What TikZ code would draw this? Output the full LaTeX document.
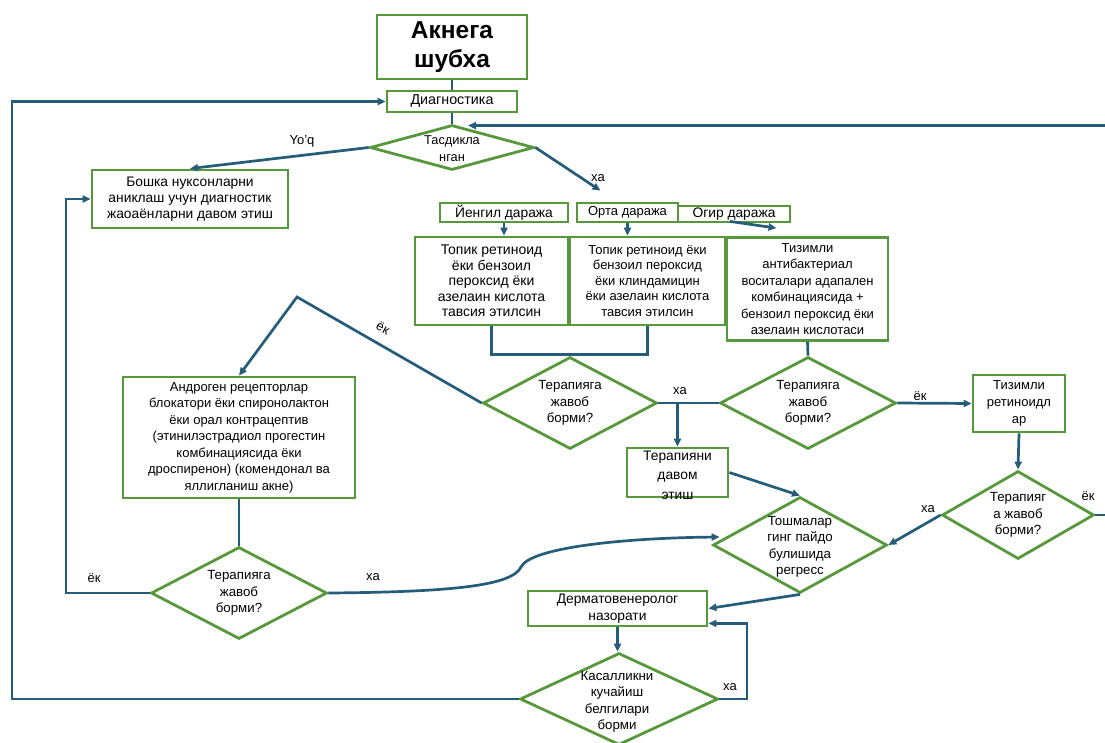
\documentclass[tikz,border=0pt]{standalone}
\usepackage{fontspec}
\setmainfont{Liberation Sans}
\usetikzlibrary{shapes.geometric,arrows.meta,calc}
\definecolor{bx}{RGB}{88,152,60}
\definecolor{ln}{RGB}{36,92,122}
\begin{document}
\begin{tikzpicture}[x=1pt,y=-1pt,
 box/.style={draw=bx,line width=2.8pt,rectangle,inner sep=0pt,align=center,font=\fontsize{13}{16.5}\selectfont},
 dia/.style={draw=bx,line width=2.8pt,diamond,inner sep=0pt},
 dtxt/.style={align=center,font=\fontsize{13.3}{16.5}\selectfont,inner sep=0pt},
 conn/.style={draw=ln,line width=2.7pt},
 arr/.style={conn,-{Triangle[length=8pt,width=7pt]}},
 lbl/.style={font=\fontsize{13}{14}\selectfont,inner sep=0pt}]
\useasboundingbox[fill=white] (0,0) rectangle (1105,742);

% boxes
\node[box,font=\bfseries\fontsize{24.5}{29}\selectfont,minimum width=150,minimum height=64] (title) at (452,47) {Акнега\\шубха};
\node[box,minimum width=130,minimum height=21,font=\fontsize{14.3}{16}\selectfont] (diag) at (452,101.5) {Диагностика};
\node[box,minimum width=196,minimum height=58,font=\fontsize{13.8}{16}\selectfont] (bosh) at (190,199) {Бошка нуксонларни\\аниклаш учун диагностик\\жаоаёнларни давом этиш};
\node[box,minimum width=128,minimum height=19,font=\fontsize{13.8}{16}\selectfont] (yen) at (504,212.5) {Йенгил даража};
\node[box,minimum width=101,minimum height=19] (orta) at (627.5,212.5) {Орта даража};
\node[box,minimum width=112,minimum height=16,font=\fontsize{13.8}{16}\selectfont] (ogir) at (734,214) {Огир даража};
\node[box,minimum width=153,minimum height=88,font=\fontsize{14}{15.5}\selectfont] (top1) at (491.5,281) {Топик ретиноид\\ёки бензоил\\пероксид ёки\\азелаин кислота\\тавсия этилсин};
\node[box,minimum width=155,minimum height=88,font=\fontsize{13}{15.5}\selectfont] (top2) at (647.5,281) {Топик ретиноид ёки\\бензоил пероксид\\ёки клиндамицин\\ёки азелаин кислота\\тавсия этилсин};
\node[box,minimum width=161,minimum height=103] (tiz) at (807.5,289) {Тизимли\\антибактериал\\воситалари адапален\\комбинациясида +\\бензоил пероксид ёки\\азелаин кислотаси};
\node[box,minimum width=232,minimum height=121,font=\fontsize{13}{16.5}\selectfont] (andr) at (239,437.5) {Андроген рецепторлар\\блокатори ёки спиронолактон\\ёки орал контрацептив\\(этинилэстрадиол прогестин\\комбинациясида ёки\\дроспиренон) (комендонал ва\\яллигланиш акне)};
\node[box,minimum width=92,minimum height=57,font=\fontsize{13}{17}\selectfont] (tizr) at (1019,403.5) {Тизимли\\ретиноидл\\ар};
\node[box,minimum width=101,minimum height=49] (terd) at (677.5,472.5) {};
\node[dtxt,font=\fontsize{13.8}{19.5}\selectfont] (terdT) at (677.5,475) {Терапияни\\давом\\этиш};
\node[box,minimum width=179,minimum height=35,font=\fontsize{13.8}{17}\selectfont] (derm) at (617.5,608.5) {Дерматовенеролог\\назорати};

% diamonds
\node[dia,minimum width=164,minimum height=45] (tas) at (452,147.5) {};
\node[dtxt,font=\fontsize{12.8}{17}\selectfont] (tasT) at (452,149) {Тасдикла\\нган};
\node[dia,minimum width=174,minimum height=92] (th1) at (570,403) {};
\node[dtxt] (th1T) at (570,403) {Терапияга\\жавоб\\борми?};
\node[dia,minimum width=176,minimum height=92] (th2) at (808,403) {};
\node[dtxt] (th2T) at (808,403) {Терапияга\\жавоб\\борми?};
\node[dia,minimum width=152,minimum height=88] (th3) at (1018,515) {};
\node[dtxt] (th3T) at (1018,515) {Терапияг\\а жавоб\\борми?};
\node[dia,minimum width=174,minimum height=96] (tosh) at (800,545) {};
\node[dtxt] (toshT) at (800,547) {Тошмалар\\гинг пайдо\\булишида\\регресс};
\node[dia,minimum width=176,minimum height=92] (bl) at (239,593) {};
\node[dtxt] (blT) at (239,593) {Терапияга\\жавоб\\борми?};
\node[dia,minimum width=198,minimum height=92] (kas) at (619,699) {};
\node[dtxt] (kasT) at (617,702) {Касалликни\\кучайиш\\белгилари\\борми};

% free-end coordinates
\coordinate (haend) at ($(orta.north)+(-27,-11)$);
\coordinate (ogirS) at ($(ogir.south)+(-4,-2)$);
\coordinate (ogirE) at ($(tiz.north)+(-31,-8)$);
\coordinate (tasin) at ($(tas.north)+(16,2)$);
\coordinate (apex) at (297,297);
\coordinate (toshin) at ($(tosh.west)+(8,-8)$);
\coordinate (dermin) at ($(derm.south east)+(0,-4)$);

% connectors
\draw[conn] (title.south) -- (diag.north);
\draw[conn] (diag.south) -- (tas.north);
\draw[arr] (tas.west) -- (bosh.north);
\draw[arr] (tas.east) -- (haend);
\draw[arr] (yen.south) -- (yen.south |- top1.north);
\draw[arr] (orta.south) -- (orta.south |- top2.north);
\draw[arr] (ogirS) -- (ogirE);
\draw[conn] (top1.south) -- ++(0,28) -| (top2.south);
\draw[conn] (tiz.south) -- (th2.north);
\draw[conn] (th1.east) -- (th2.west);
\draw[arr] (terd.north |- th1.east) -- (terd.north);
\draw[arr] (th1.west) -- (apex) -- (andr.north);
\draw[conn] (andr.south) -- (bl.north);
\draw[arr] (bl.west) -- (66,593) |- (bosh.west);
\draw[arr] (bl.east) .. controls (450,592) and (512,586) .. (521,567) .. controls (530,548) and (620,538) .. (toshin);
\draw[arr] (terd.east) -- (tosh.north);
\draw[arr] (th2.east) -- (tizr.west);
\draw[arr] (tizr.south) -- (th3.north);
\draw[arr] (th3.west) -- (tosh.east);
\draw[arr] (th3.east) -- (1112,515) |- (tasin);
\draw[arr] (tosh.south) -- (derm.east);
\draw[arr] (derm.south) -- (derm.south |- kas.north);
\draw[arr] (kas.east) -- (747,699) |- (dermin);
\draw[arr] (kas.west) -- (12,699) |- (diag.west);

% labels
\node[lbl] (l1) at (302,141) {Yo'q};
\node[lbl] (l2) at (598,178) {ха};
\node[lbl,rotate=-29] (l3) at (383,328) {ёк};
\node[lbl] (l4) at (680,391) {ха};
\node[lbl] (l5) at (920,396) {ёк};
\node[lbl] (l6) at (928,509) {ха};
\node[lbl] (l7) at (1088,496) {ёк};
\node[lbl] (l8) at (94,578) {ёк};
\node[lbl] (l9) at (373,577) {ха};
\node[lbl] (l10) at (730,687) {ха};
\end{tikzpicture}
\end{document}
